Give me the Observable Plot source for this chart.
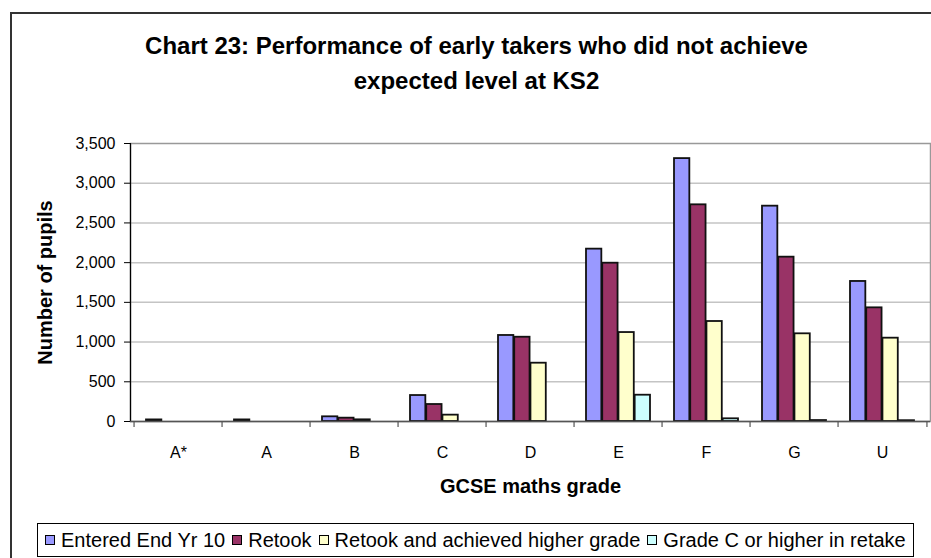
<!DOCTYPE html>
<html><head><meta charset="utf-8">
<script src="https://cdn.jsdelivr.net/npm/d3@7"></script>
<script src="https://cdn.jsdelivr.net/npm/@observablehq/plot@0.6"></script>
<style>
body{margin:0;background:#fff;font-family:Arial,"Liberation Sans",sans-serif;}
#wrap{position:relative;width:931px;height:558px;overflow:hidden;background:#fff;}
#frame{position:absolute;left:10px;top:12px;width:1000px;height:1000px;border:2px solid #333;box-sizing:border-box;}
#title{position:absolute;left:10px;width:933px;top:28px;text-align:center;font-weight:bold;font-size:24px;line-height:35px;color:#000;}
#chart{position:absolute;left:0;top:118px;}
#chart g[aria-label$="tick label"] text{font-size:16px;}
#legend{position:absolute;left:37px;top:523px;width:877px;height:34px;border:1px solid #000;box-sizing:border-box;display:flex;align-items:center;font-size:20px;padding-left:7px;white-space:nowrap;color:#000;}
.sw{display:inline-block;width:10px;height:10px;border:1px solid #000;margin-right:6px;box-sizing:border-box;}
.it{display:flex;align-items:center;margin-right:7px;}
</style></head>
<body>
<div id="wrap">
<div id="frame"></div>
<div id="title">Chart 23: Performance of early takers who did not achieve<br>expected level at KS2</div>
<div id="chart"></div>
<div id="legend"></div>
</div>
<script>
const grades = ["A*","A","B","C","D","E","F","G","U"];
const seriesNames = ["Entered End Yr 10","Retook","Retook and achieved higher grade","Grade C or higher in retake"];
const entered = [20, 20, 59, 327, 1083, 2170, 3310, 2711, 1763];
const retook = [0, 0, 42, 214, 1061, 1993, 2728, 2069, 1431];
const higher = [0, 0, 21, 80, 734, 1120, 1259, 1104, 1049];
const gradeC = [0, 0, 0, 0, 0, 331, 34, 12, 10];
const colors = ["#9999FF","#993366","#FFFFCC","#CCFFFF"];
const yTicks = [0,500,1000,1500,2000,2500,3000,3500];
const xTitle = "GCSE maths grade";
const yTitle = "Number of pupils";

const seriesValues = [entered, retook, higher, gradeC];
const rows = [];
seriesValues.forEach((vals, s) => vals.forEach((v, i) => rows.push({grade: grades[i], series: seriesNames[s], value: v, s})));

const W = 931, H = 392, mL = 130, mR = 1, mT = 25, mB = 89;
const step = (W - mL - mR) / grades.length;
const gap = 12, bw = (step - 2*gap) / 4;

const barMarks = seriesNames.map((name, s) => Plot.barY(rows.filter(r => r.s === s), {
  x: "grade", y: "value", fill: colors[s], stroke: "#111", strokeWidth: 1.8,
  insetLeft: gap + bw*s, insetRight: step - gap - bw*(s+1)
}));

const chart = Plot.plot({
  width: W, height: H,
  marginLeft: mL, marginRight: mR, marginTop: mT, marginBottom: mB,
  style: {fontFamily: "Arial, 'Liberation Sans', sans-serif", fontSize: "16px", color: "#000", background: "transparent"},
  x: {domain: grades, padding: 0, axis: null},
  y: {domain: [0, 3500], axis: null},
  marks: [
    Plot.ruleY(yTicks.filter(t => t > 0 && t < 3500), {stroke: "#c4c4c4", strokeWidth: 1.5}),
    Plot.frame({stroke: "#999", strokeWidth: 1.5}),
    ...barMarks,
    Plot.frame({anchor: "left", stroke: "#000", strokeWidth: 1.2}),
    Plot.ruleY([0], {stroke: "#555", strokeWidth: 1.5}),
    Plot.axisX({tickSize: 6, text: null, label: null, dx: -step/2, stroke: "#555", strokeWidth: 1.2}),
    Plot.axisX({ticks: [grades[grades.length-1]], tickSize: 6, text: null, label: null, dx: step/2, stroke: "#555", strokeWidth: 1.2}),
    Plot.axisY({ticks: yTicks, tickFormat: d3.format(","), tickSize: 6, tickPadding: 9, fontSize: 16, label: null, stroke: "#000"}),
    Plot.axisX({tickSize: 0, tickPadding: 25, fontSize: 16, label: null}),
    Plot.text([yTitle], {frameAnchor: "left", dx: -85, rotate: -90, textAnchor: "middle", fontWeight: "bold", fontSize: 20, text: d => d}),
    Plot.text([xTitle], {frameAnchor: "bottom", dy: 71, fontWeight: "bold", fontSize: 20, text: d => d})
  ]
});
document.getElementById("chart").appendChild(chart);

const legend = document.getElementById("legend");
seriesNames.forEach((n, i) => {
  const it = document.createElement("span");
  it.className = "it";
  it.innerHTML = `<span class="sw" style="background:${colors[i]}"></span>${n}`;
  legend.appendChild(it);
});
</script>
</body></html>
